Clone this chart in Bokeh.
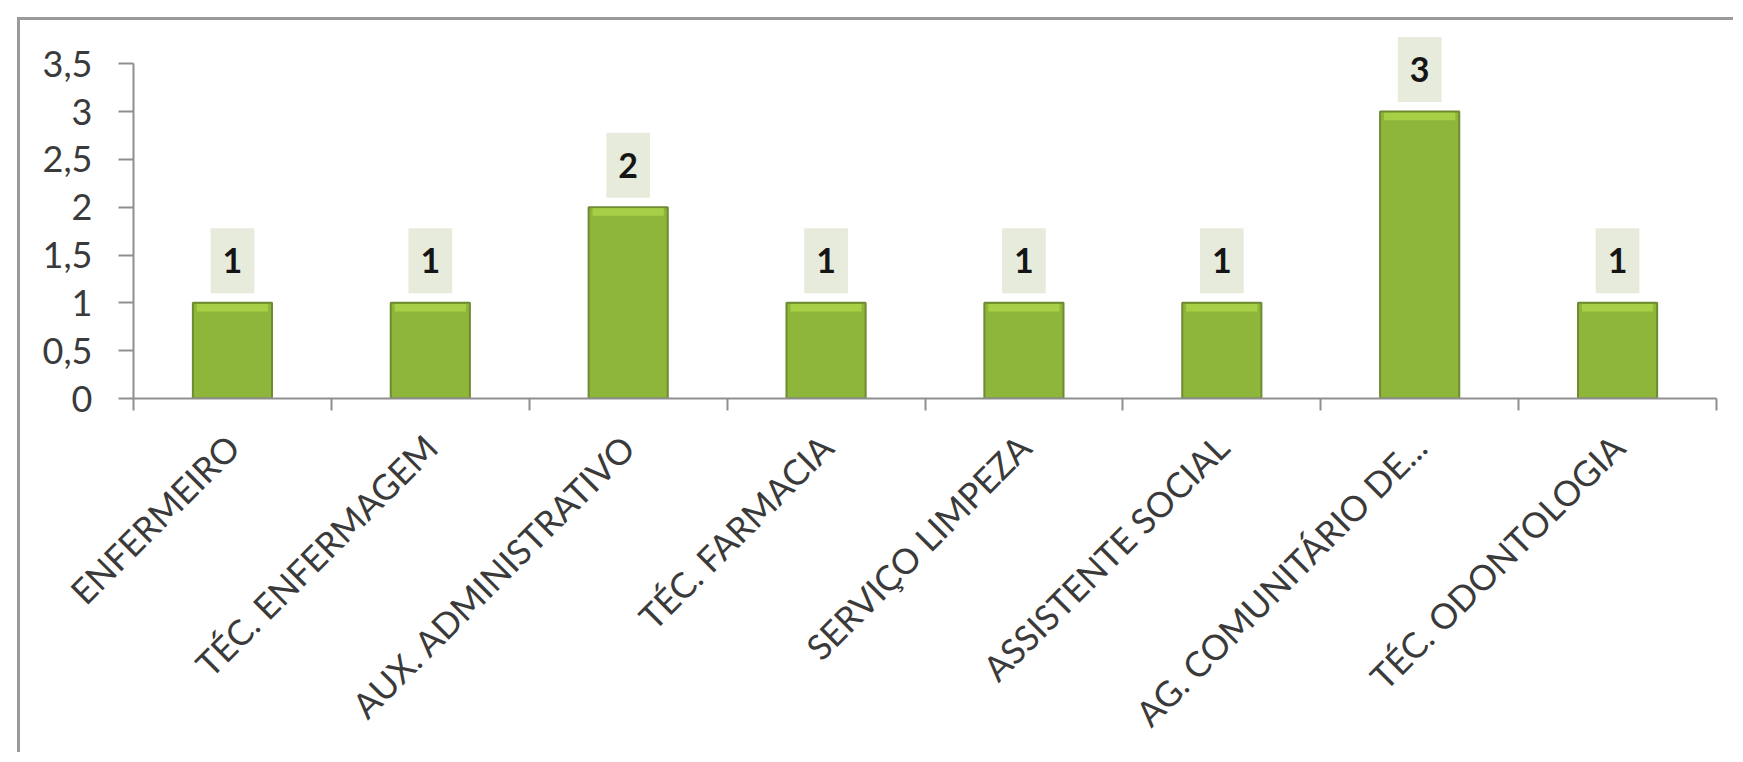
import math
from bokeh.plotting import figure
from bokeh.models import (ColumnDataSource, Range1d, FixedTicker, CustomJSTickFormatter)
from bokeh.core.properties import value
from bokeh.transform import dodge
from bokeh.embed import file_html
from bokeh.resources import INLINE

categories = ["ENFERMEIRO", "TÉC. ENFERMAGEM", "AUX. ADMINISTRATIVO", "TÉC. FARMACIA",
              "SERVIÇO LIMPEZA", "ASSISTENTE SOCIAL", "AG. COMUNITÁRIO DE...", "TÉC. ODONTOLOGIA"]
counts = [1, 1, 2, 1, 1, 1, 3, 1]
y_ticks = [0, 0.5, 1, 1.5, 2, 2.5, 3, 3.5]

FONT = "Lato"
AXIS_GRAY = "#8f8f8f"

n = len(categories)
pos = list(range(n))
source = ColumnDataSource(dict(x=pos, cat=categories, val=counts, lab=[str(v) for v in counts]))

p = figure(x_range=Range1d(-0.5, n - 0.5), y_range=Range1d(0, 3.9),
           width=1716, height=735, output_backend="svg", toolbar_location=None,
           min_border_left=113, min_border_right=20, min_border_top=5, min_border_bottom=357)
p.margin = (17, 0, 0, 17)
p.styles = {"border-left": "3px solid #9a9a9a", "border-top": "3px solid #9a9a9a"}

p.grid.visible = False
p.outline_line_color = None
p.background_fill_color = "white"
p.border_fill_color = "white"

xax = p.xaxis[0]
xax.ticker = FixedTicker(ticks=pos, minor_ticks=[i - 0.5 for i in range(n + 1)])
xax.major_label_overrides = {i: c for i, c in zip(pos, categories)}
xax.major_label_orientation = math.pi / 4
xax.major_tick_out = 0
xax.major_tick_in = 0
xax.minor_tick_out = 12
xax.minor_tick_in = 0
xax.minor_tick_line_color = AXIS_GRAY
xax.minor_tick_line_width = 2
xax.axis_line_color = AXIS_GRAY
xax.axis_line_width = 2
xax.major_label_standoff = 30
xax.major_label_text_font = FONT
xax.major_label_text_font_size = "35px"
xax.major_label_text_color = "#3a3a3a"

yax = p.yaxis[0]
yax.bounds = (0, 3.5)
yax.ticker = FixedTicker(ticks=y_ticks, minor_ticks=[])
yax.formatter = CustomJSTickFormatter(code="return String(tick).replace('.', ',');")
yax.major_tick_out = 15
yax.major_tick_in = 0
yax.minor_tick_out = 0
yax.minor_tick_in = 0
yax.axis_line_color = AXIS_GRAY
yax.axis_line_width = 2
yax.major_tick_line_color = AXIS_GRAY
yax.major_tick_line_width = 2
yax.major_label_standoff = 26
yax.major_label_text_font = FONT
yax.major_label_text_font_size = "36px"
yax.major_label_text_color = "#3a3a3a"

# bars
p.vbar(x="x", top="val", width=0.4, source=source,
       fill_color="#8db63a", line_color="#6e8b30", line_width=2)
# light bevel along the top of each bar
p.vbar(x="x", top=dodge("val", -0.012), bottom=dodge("val", -0.09), width=0.36, source=source,
       fill_color="#a8d046", line_color=None)

p.text(x="x", y="val", text="lab", source=source, y_offset=-42,
       text_align="center", text_baseline="middle",
       text_font=value(FONT), text_font_style="bold", text_font_size="34px",
       text_color="#151515", background_fill_color="#e7ebdb",
       padding=dict(left=12, right=12, top=20, bottom=20))

open("out.html", "w").write(file_html(p, INLINE))
